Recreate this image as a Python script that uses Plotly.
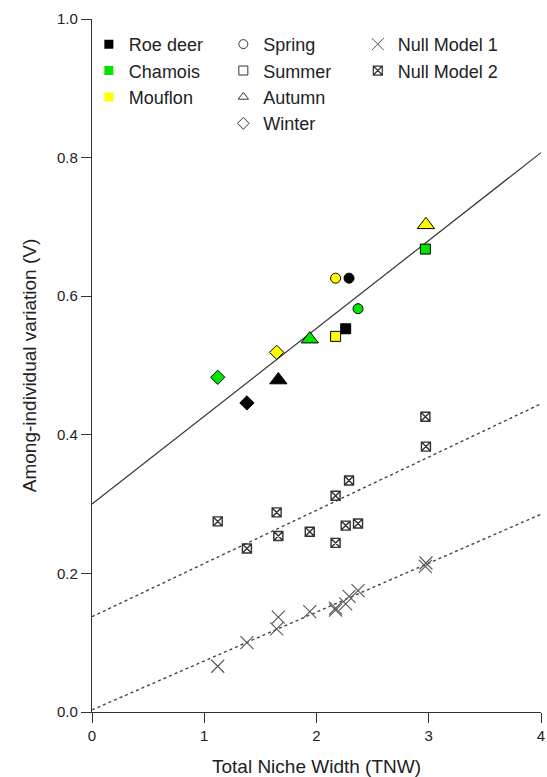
import numpy as np
import plotly.graph_objects as go

# ---------------- data ----------------
seasons = ["Spring", "Summer", "Autumn", "Winter"]
species = ["Roe deer", "Chamois", "Mouflon"]

roe_tnw = [2.29, 2.26, 1.66, 1.38]
roe_v = [0.626, 0.553, 0.479, 0.446]
chamois_tnw = [2.37, 2.97, 1.94, 1.12]
chamois_v = [0.582, 0.668, 0.538, 0.483]
mouflon_tnw = [2.17, 2.17, 2.975, 1.645]
mouflon_v = [0.626, 0.542, 0.703, 0.519]

roe_null1 = [0.167, 0.156, 0.137, 0.100]
chamois_null1 = [0.175, 0.210, 0.145, 0.066]
mouflon_null1 = [0.150, 0.147, 0.215, 0.120]

roe_null2 = [0.334, 0.269, 0.254, 0.236]
chamois_null2 = [0.272, 0.426, 0.260, 0.275]
mouflon_null2 = [0.312, 0.244, 0.383, 0.288]

# regression lines (intercept, slope): observed, null model 2, null model 1
fit_names = ["Observed", "Null Model 2", "Null Model 1"]
fit_intercepts = [0.300, 0.1375, 0.003]
fit_slopes = [0.1268, 0.0768, 0.0706]

x_range = [0, 4]
y_range = [0, 1]

# ---------------- styles ----------------
species_colors = {"Roe deer": "#000000", "Chamois": "#00e600", "Mouflon": "#ffff00"}
season_symbols = {"Spring": "circle", "Summer": "square", "Autumn": "triangle-up", "Winter": "diamond"}
season_sizes = {"Spring": 10, "Summer": 10, "Autumn": 15, "Winter": 11}
FONT = "Liberation Sans, Arial, sans-serif"
TXT = "#222222"

tnw = {"Roe deer": roe_tnw, "Chamois": chamois_tnw, "Mouflon": mouflon_tnw}
obs = {"Roe deer": roe_v, "Chamois": chamois_v, "Mouflon": mouflon_v}
n1 = {"Roe deer": roe_null1, "Chamois": chamois_null1, "Mouflon": mouflon_null1}
n2 = {"Roe deer": roe_null2, "Chamois": chamois_null2, "Mouflon": mouflon_null2}

fig = go.Figure()

# regression lines
xs = np.array(x_range, dtype=float)
line_styles = [dict(color="#333333", width=1.2, dash="solid"),
               dict(color="#444444", width=1.4, dash="dot"),
               dict(color="#444444", width=1.4, dash="dot")]
for name, b0, b1, st in zip(fit_names, fit_intercepts, fit_slopes, line_styles):
    fig.add_trace(go.Scatter(x=xs, y=b0 + b1 * xs, mode="lines", line=st,
                             showlegend=False, hoverinfo="skip", name=name))

# null model 1 points
for sp in species:
    fig.add_trace(go.Scatter(x=tnw[sp], y=n1[sp], mode="markers",
                             marker=dict(symbol="x-thin-open", size=13, color="#555555",
                                         line=dict(color="#555555", width=1.1)),
                             showlegend=False))
# null model 2 points
for sp in species:
    fig.add_trace(go.Scatter(x=tnw[sp], y=n2[sp], mode="markers",
                             marker=dict(symbol="square-x-open", size=9, color="#333333",
                                         line=dict(color="#333333", width=1.4)),
                             showlegend=False))

# observed points
for sp in species:
    fig.add_trace(go.Scatter(
        x=tnw[sp], y=obs[sp], mode="markers",
        marker=dict(symbol=[season_symbols[s] for s in seasons],
                    size=[season_sizes[s] for s in seasons],
                    color=species_colors[sp], opacity=1,
                    line=dict(color="#000000", width=1)),
        showlegend=False, name=sp))

# legend-only entries
for sp in species:
    fig.add_trace(go.Scatter(x=[None], y=[None], mode="markers", name=sp,
                             marker=dict(symbol="square", size=9, color=species_colors[sp],
                                         line=dict(width=0)),
                             legend="legend"))
for s in seasons:
    fig.add_trace(go.Scatter(x=[None], y=[None], mode="markers", name=s,
                             marker=dict(symbol=season_symbols[s] + "-open", size=9,
                                         color="#333333", line=dict(width=1)),
                             legend="legend2"))
fig.add_trace(go.Scatter(x=[None], y=[None], mode="markers", name="Null Model 1",
                         marker=dict(symbol="x-thin-open", size=12, color="#555555",
                                     line=dict(color="#555555", width=1)),
                         legend="legend3"))
fig.add_trace(go.Scatter(x=[None], y=[None], mode="markers", name="Null Model 2",
                         marker=dict(symbol="square-x-open", size=9, color="#333333",
                                     line=dict(width=1.2)),
                         legend="legend3"))

leg_common = dict(yanchor="top", xanchor="left", y=0.99, bgcolor="rgba(0,0,0,0)",
                  font=dict(family=FONT, size=18, color=TXT), tracegroupgap=0)

axis_common = dict(showline=True, linecolor="#333333", linewidth=1.3, ticks="outside",
                   ticklen=10, tickwidth=1.3, tickcolor="#333333", showgrid=False,
                   zeroline=False, mirror=False, automargin=False,
                   tickfont=dict(family=FONT, size=15, color=TXT))

fig.update_layout(
    width=547, height=777,
    margin=dict(l=92, r=6, t=19, b=65),
    plot_bgcolor="white", paper_bgcolor="white",
    font=dict(family=FONT, color=TXT),
    xaxis=dict(range=x_range, dtick=1, tick0=0,
               title=dict(text="Total Niche Width (TNW)", font=dict(family=FONT, size=19, color=TXT),
                          standoff=17),
               **axis_common),
    yaxis=dict(range=y_range, dtick=0.2, tick0=0, tickformat=".1f",
               title=dict(text="Among-individual variation (V)", font=dict(family=FONT, size=19, color=TXT),
                          standoff=15),
               **axis_common),
    legend=dict(x=-0.007, **leg_common),
    legend2=dict(x=0.2925, **leg_common),
    legend3=dict(x=0.592, **leg_common),
)

fig.write_html("out.html", config={"displayModeBar": False},
               post_script="document.body.style.margin='0';")
